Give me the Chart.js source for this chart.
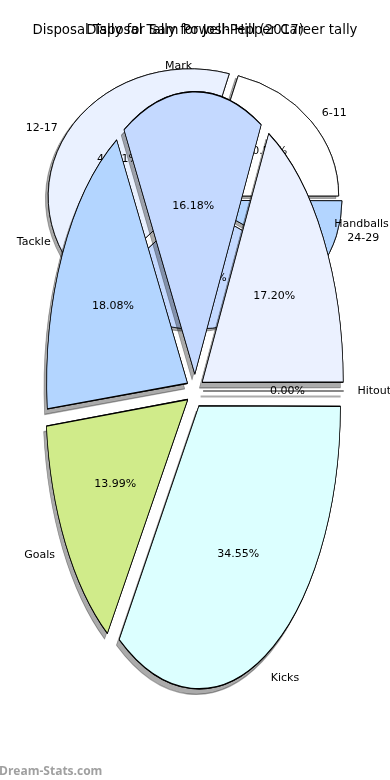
<!DOCTYPE html>
<html>
<head>
<meta charset="utf-8">
<script src="https://cdn.jsdelivr.net/npm/chart.js@4.4.1/dist/chart.umd.min.js"></script>
<style>
html, body { margin: 0; padding: 0; background: #fff; }
#wrap { position: relative; width: 390px; height: 780px; }
#wrap canvas { position: absolute; left: 0; top: 0; }
</style>
</head>
<body>
<div id="wrap">
  <canvas id="career" width="390" height="780"></canvas>
  <canvas id="season" width="390" height="780"></canvas>
</div>
<script>
// career tally (back pie)
var careerTitle = "Disposal Tally for Sam Powell-Pepper Career tally";
var careerLabels = ["6-11", "12-17", "18-23", "24-29"];
var careerValues = [20.51, 42.31, 28.21, 8.97];
var careerColors = ["#ffffff", "#eaf1ff", "#c4d9ff", "#b3d5ff"];

// 2017 season (front pie)
var seasonTitle = "Disposal Tally for Josh Hill (2017)";
var seasonLabels = ["Handballs", "Mark", "Tackle", "Goals", "Kicks", "Hitout"];
var seasonValues = [17.20, 16.18, 18.08, 13.99, 34.55, 0.00];
var seasonColors = ["#ebf1ff", "#c4d9ff", "#b3d5ff", "#d0eb8a", "#dcffff", "#ffffff"];

// matplotlib goes counter-clockwise from 3 o'clock, chart.js clockwise -> reverse
function rev(a) { return a.slice().reverse(); }

function piePlugin(g) {
    var k = g.ry / g.rx;
    function zeroLine(ctx, arc, color) {
        var a = arc.startAngle, t = g.explode * arc.outerRadius;
        ctx.save();
        ctx.strokeStyle = color;
        ctx.lineWidth = 1;
        ctx.beginPath();
        ctx.moveTo(arc.x + Math.cos(a) * t, arc.y + Math.sin(a) * t);
        ctx.lineTo(arc.x + Math.cos(a) * (t + arc.outerRadius), arc.y + Math.sin(a) * (t + arc.outerRadius));
        ctx.stroke();
        ctx.restore();
    }
    return {
        id: 'ellipsePie',
        beforeDatasetsDraw: function(chart) {
            var ctx = chart.ctx;
            var arcs = chart.getDatasetMeta(0).data;
            ctx.save();
            ctx.translate(0, g.cy);
            ctx.scale(1, k);
            ctx.translate(0, -g.cy);
            // shadow pass
            ctx.save();
            ctx.shadowColor = 'rgba(0,0,0,0.33)';
            ctx.shadowOffsetX = -0.02 * g.rx;
            ctx.shadowOffsetY = 0.02 * g.ry;
            arcs.forEach(function(arc) {
                if (arc.circumference === 0) zeroLine(ctx, arc, '#666');
                else arc.draw(ctx);
            });
            ctx.restore();
        },
        afterDatasetsDraw: function(chart) {
            var ctx = chart.ctx;
            chart.getDatasetMeta(0).data.forEach(function(arc) {
                if (arc.circumference === 0) zeroLine(ctx, arc, '#888');
            });
            ctx.restore();
        },
        afterDraw: function(chart) {
            var ctx = chart.ctx;
            var arcs = chart.getDatasetMeta(0).data;
            var labels = chart.data.labels;
            var values = chart.data.datasets[0].data;
            ctx.save();
            ctx.fillStyle = '#000';
            ctx.textBaseline = 'middle';
            ctx.font = '11px "DejaVu Sans"';
            arcs.forEach(function(arc, i) {
                var a = (arc.startAngle + arc.endAngle) / 2;
                var r = arc.outerRadius, t = g.explode * r;
                var lx = arc.x + Math.cos(a) * (t + 1.1 * r);
                var ly = arc.y + k * Math.sin(a) * (t + 1.1 * r);
                ctx.textAlign = Math.cos(a) > 0 ? 'left' : 'right';
                ctx.fillText(labels[i], lx, ly);
                var px = arc.x + Math.cos(a) * (t + 0.6 * r);
                var py = arc.y + k * Math.sin(a) * (t + 0.6 * r);
                ctx.textAlign = 'center';
                ctx.fillText(values[i].toFixed(2) + '%', px, py);
            });
            ctx.font = '13.3px "DejaVu Sans"';
            ctx.textAlign = 'center';
            ctx.fillText(g.title, 195, 31);
            if (g.watermark) {
                ctx.font = 'bold 12px "Open Sans"';
                ctx.fillStyle = '#a0a0a0';
                ctx.textAlign = 'left';
                ctx.textBaseline = 'alphabetic';
                ctx.fillText('Dream-Stats.com', -1, 775);
            }
            ctx.restore();
        }
    };
}

function makePie(id, g, labels, values, colors) {
    var ctx = document.getElementById(id).getContext("2d");
    return new Chart(ctx, {
        type: "pie",
        plugins: [piePlugin(g)],
        data: {
            labels: rev(labels),
            datasets: [{
                data: rev(values),
                backgroundColor: rev(colors),
                borderColor: "#000",
                borderWidth: g.border,
                offset: 4 * g.explode * g.rx,
                hoverOffset: 0
            }]
        },
        options: {
            responsive: false,
            animation: false,
            events: [],
            devicePixelRatio: 1,
            rotation: 90,
            radius: g.rx,
            layout: {
                padding: {
                    left: g.cx - 160,
                    right: 390 - g.cx - 160,
                    top: g.cy - 160,
                    bottom: 780 - g.cy - 160
                }
            },
            plugins: {
                legend: { display: false },
                tooltip: { enabled: false },
                title: { display: false }
            }
        }
    });
}

makePie("career", { cx: 195, cy: 199, rx: 139, ry: 125, explode: 0.04, border: 0.9, title: careerTitle },
    careerLabels, careerValues, careerColors);
makePie("season", { cx: 195, cy: 391, rx: 140, ry: 280, explode: 0.06, border: 0.7, title: seasonTitle, watermark: true },
    seasonLabels, seasonValues, seasonColors);
</script>
</body>
</html>
